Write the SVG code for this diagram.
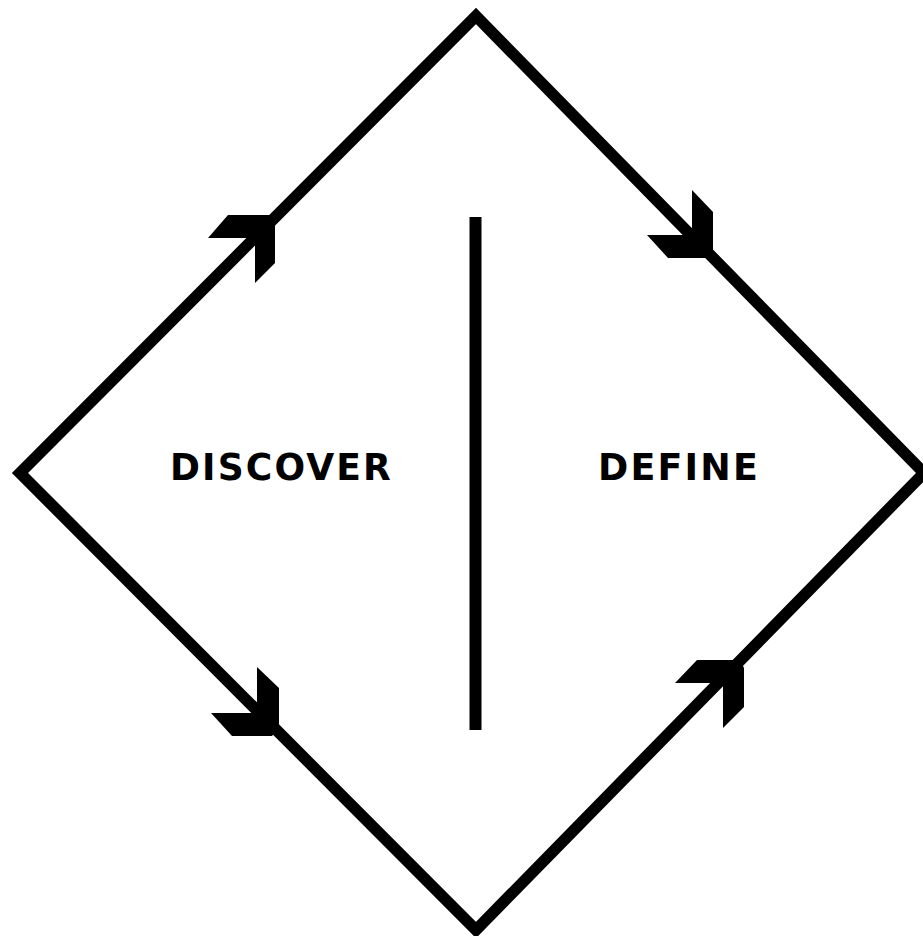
<svg xmlns="http://www.w3.org/2000/svg" width="923" height="936" viewBox="0 0 923 936">
  <style>
    .edge { stroke: #000; stroke-width: 11.5; fill: none; stroke-linejoin: miter; stroke-miterlimit: 10; }
    .head { fill: #000; stroke: none; }
    .label { font-family: "DejaVu Sans Condensed", "DejaVu Sans", "Liberation Sans", sans-serif; font-weight: bold; font-size: 37px; letter-spacing: 2px; fill: #000; }
  </style>
  <rect width="923" height="936" fill="#fff"/>
  <g id="connectors">
    <polygon class="edge" points="476,16 924,473 476,930 20,473"/>
    <polygon class="head" points="228,215 270,215 275,222 275,263 255,283 255,238 208,238"/>
    <polygon class="head" points="692,190 713,212 713,253 710,258 668,258 647,235 692,235"/>
    <polygon class="head" points="257,667 279,688 279,727 272,736 232,736 211,713 257,713"/>
    <polygon class="head" points="697,660 740,660 744,668 744,707 723,728 723,683 675,683"/>
  </g>
  <g id="divider">
    <rect x="469.5" y="217" width="12" height="513" fill="#000"/>
  </g>
  <g id="discover">
    <text class="label" x="170" y="480" textLength="223" lengthAdjust="spacingAndGlyphs">DISCOVER</text>
  </g>
  <g id="define">
    <text class="label" x="598" y="480" textLength="162" lengthAdjust="spacingAndGlyphs">DEFINE</text>
  </g>
</svg>
